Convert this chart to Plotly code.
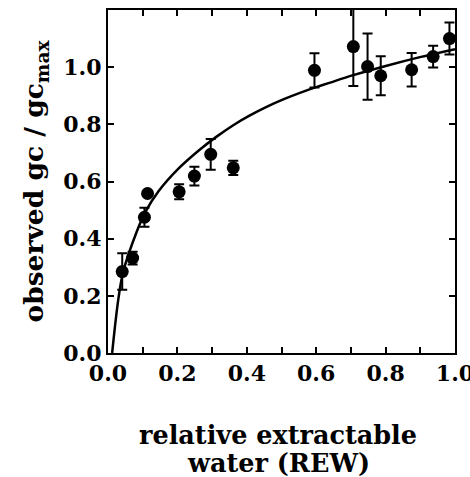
import plotly.graph_objects as go

# Observed data (relative extractable water vs. observed gc/gcmax)
rew = [0.041, 0.071, 0.105, 0.114, 0.205, 0.249, 0.296, 0.361, 0.595,
       0.707, 0.748, 0.786, 0.875, 0.937, 0.984]
gc_ratio = [0.285, 0.332, 0.475, 0.558, 0.564, 0.619, 0.695, 0.648, 0.989,
            1.072, 1.002, 0.970, 0.991, 1.037, 1.100]
gc_err = [0.064, 0.022, 0.033, 0.0, 0.026, 0.033, 0.054, 0.025, 0.060,
          0.138, 0.116, 0.068, 0.059, 0.038, 0.056]

# Fitted curve
fit_x = [0.012, 0.030, 0.044, 0.083, 0.107, 0.145, 0.203, 0.265, 0.313, 0.361,
         0.409, 0.457, 0.505, 0.553, 0.600, 0.640, 0.707, 0.803, 0.899, 1.000]
fit_y = [0.000, 0.190, 0.285, 0.425, 0.492, 0.565, 0.645, 0.712, 0.757, 0.797,
         0.831, 0.861, 0.887, 0.910, 0.930, 0.946, 0.972, 1.005, 1.035, 1.063]

x_ticks = [0.0, 0.2, 0.4, 0.6, 0.8, 1.0]
x_ticktext = ["0.0", "0.2", "0.4", "0.6", "0.8", "1.0"]
y_ticks = [0.0, 0.2, 0.4, 0.6, 0.8, 1.0]
y_ticktext = ["0.0", "0.2", "0.4", "0.6", "0.8", "1.0"]
x_title_lines = ["relative extractable", "water (REW)"]

FONT = "DejaVu Serif"

fig = go.Figure()
fig.add_trace(go.Scatter(
    x=fit_x, y=fit_y, mode="lines",
    line=dict(color="black", width=2.5, shape="spline", smoothing=1.0),
    showlegend=False, hoverinfo="skip"))
fig.add_trace(go.Scatter(
    x=rew, y=gc_ratio, mode="markers",
    marker=dict(color="black", size=13),
    error_y=dict(type="data", array=gc_err, color="black", thickness=2, width=5),
    showlegend=False))

axis_common = dict(
    showline=True, linecolor="black", linewidth=2, mirror="ticks",
    ticks="inside", ticklen=6, tickwidth=2, tickcolor="black",
    showgrid=False, zeroline=False, ticklabeloverflow="allow", automargin=False,
    tickfont=dict(family=FONT, size=22, color="black", weight="bold"),
)

fig.update_xaxes(
    range=[0, 1.0], tickmode="array", tickvals=x_ticks, ticktext=x_ticktext,
    minor=dict(dtick=0.1, ticks="inside", ticklen=6, tickwidth=2,
               tickcolor="black", showgrid=False),
    **axis_common)
fig.update_yaxes(
    range=[0, 1.2], tickmode="array", tickvals=y_ticks, ticktext=y_ticktext,
    title=dict(text="observed gc / gc<sub>max</sub>",
               font=dict(family=FONT, size=26.5, color="black", weight="bold"),
               standoff=12),
    **axis_common)

for line_text, ypos in zip(x_title_lines, [-0.239, -0.322]):
    fig.add_annotation(
        text=line_text,
        xref="paper", yref="paper", x=0.49, y=ypos,
        xanchor="center", yanchor="middle", showarrow=False,
        font=dict(family=FONT, size=25.5, color="black", weight="bold"))

fig.update_layout(
    width=470, height=477,
    margin=dict(l=108, r=15, t=10, b=124),
    paper_bgcolor="white", plot_bgcolor="white",
)

fig.write_html("out.html")
